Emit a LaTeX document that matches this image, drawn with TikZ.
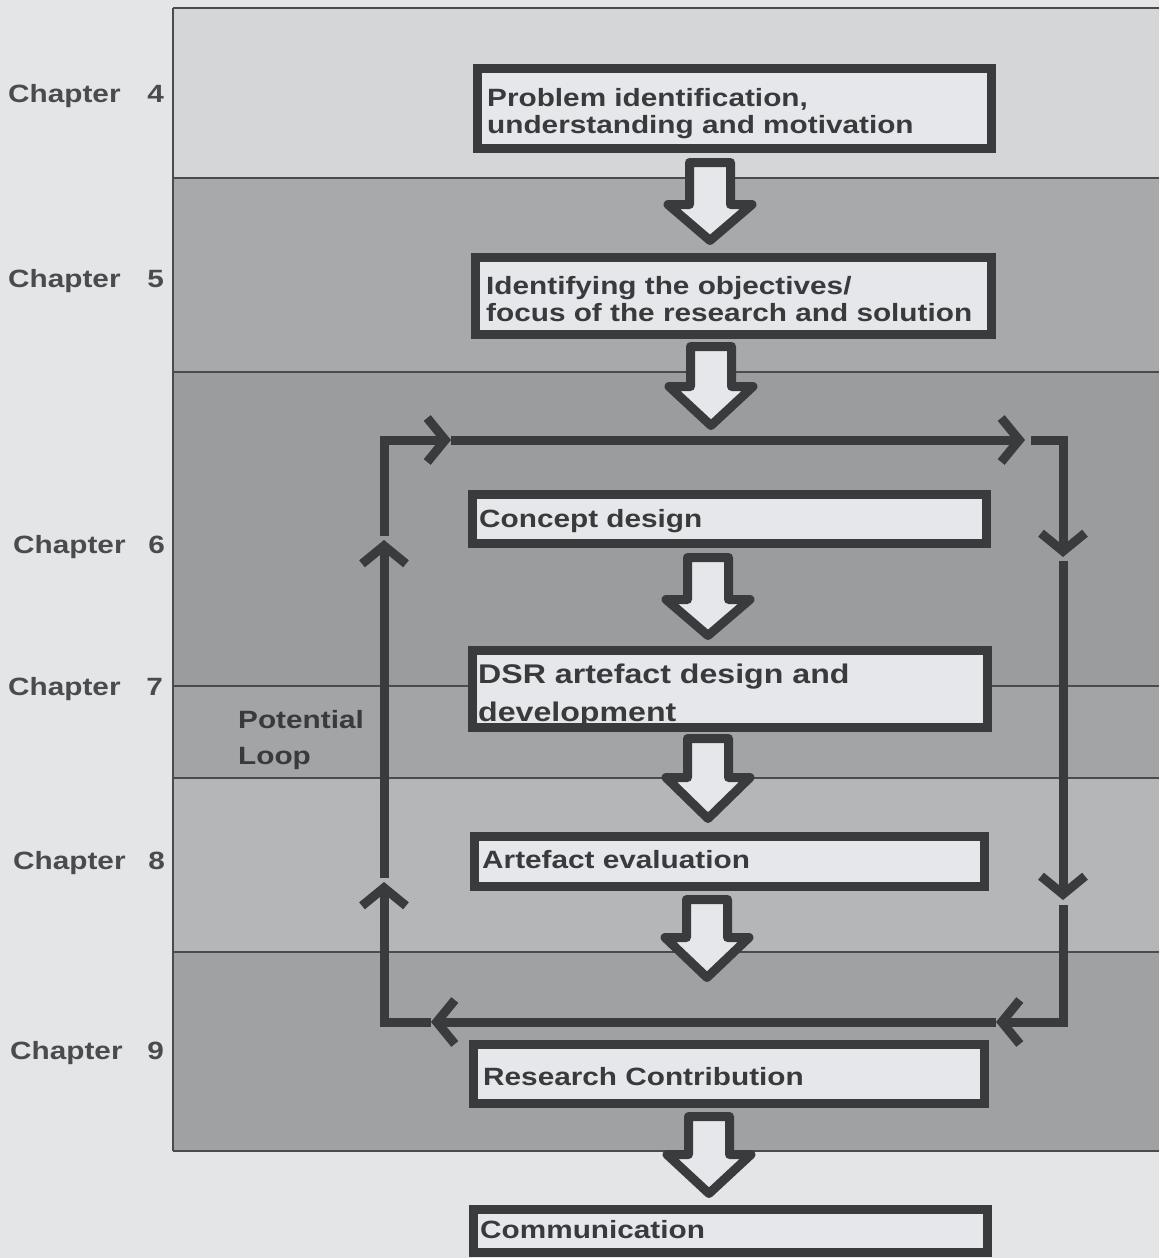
\documentclass[tikz,border=0pt]{standalone}
\usepackage{fontspec}
\setmainfont{Liberation Sans}[FakeStretch=1.19]
\usetikzlibrary{arrows.meta}

\definecolor{pagebg}{HTML}{E4E5E7}
\definecolor{bandA}{HTML}{D5D6D8}
\definecolor{bandB}{HTML}{A8A9AB}
\definecolor{bandC}{HTML}{9B9C9E}
\definecolor{bandD}{HTML}{A3A4A6}
\definecolor{bandE}{HTML}{B5B6B8}
\definecolor{bandF}{HTML}{A0A1A3}
\definecolor{rulecol}{HTML}{4A4B4D}
\definecolor{boxline}{HTML}{3A3B3D}
\definecolor{boxfill}{HTML}{E6E7EA}
\definecolor{txtcol}{HTML}{393A3C}
\definecolor{chapcol}{HTML}{4A4B4D}

% hollow block arrow: centre x, top of shaft, top of head, tip (outer edges)
\newcommand\hollowarrow[4]{%
  \draw[blockarrow]
    ({#1-20.5},{#2+4.5}) -- ({#1+20.5},{#2+4.5}) -- ({#1+20.5},{#3+4.5})
    -- ({#1+42},{#3+4.5}) -- ({#1},{#4-4.5}) -- ({#1-42},{#3+4.5})
    -- ({#1-20.5},{#3+4.5}) -- cycle;}

\begin{document}
\begin{tikzpicture}[x=1pt,y=-1pt,
  stage/.style={draw=boxline, line width=9pt, fill=boxfill, rectangle,
    inner sep=0pt, outer sep=0pt},
  blockarrow/.style={draw=boxline, line width=9pt, fill=boxfill, line join=round},
  loopline/.style={draw=boxline, line width=9pt,
    -{Straight Barb[length=18pt, width=44pt]}},
  rulestyle/.style={draw=rulecol, line width=1.6pt},
  lbl/.style={font=\bfseries\fontsize{25}{28}\selectfont, text=txtcol,
    inner sep=0pt, anchor=base west},
  biglbl/.style={lbl, font=\bfseries\fontsize{27}{31}\selectfont},
  chap/.style={font=\bfseries\fontsize{25}{28}\selectfont, text=chapcol,
    inner sep=0pt, anchor=base west},
  chapnum/.style={chap, anchor=base east}]

% page
\path[use as bounding box, fill=pagebg] (0,0) rectangle (1159,1258);

% chapter bands
\fill[bandA] (173,8)    rectangle (1159,178);
\fill[bandB] (173,178)  rectangle (1159,372);
\fill[bandC] (173,372)  rectangle (1159,686);
\fill[bandD] (173,686)  rectangle (1159,778);
\fill[bandE] (173,778)  rectangle (1159,952);
\fill[bandF] (173,952)  rectangle (1159,1151);
\foreach \yy in {8,178,372,686,778,952,1151}
  \draw[rulestyle] (173,\yy) -- (1159,\yy);
\draw[rulestyle] (173,8) -- (173,1151);

% chapter labels
\node[chap] (c4) at (8,102) {Chapter};   \node[chapnum] (n4) at (164,102) {4};
\node[chap] (c5) at (8,287) {Chapter};   \node[chapnum] (n5) at (164,287) {5};
\node[chap] (c6) at (13,553) {Chapter};  \node[chapnum] (n6) at (165,553) {6};
\node[chap] (c7) at (8,695) {Chapter};   \node[chapnum] (n7) at (163,695) {7};
\node[chap] (c8) at (13,869) {Chapter};  \node[chapnum] (n8) at (165,869) {8};
\node[chap] (c9) at (10,1059) {Chapter}; \node[chapnum] (n9) at (164,1059) {9};

% loop corners
\coordinate (tl) at (384,440);
\coordinate (tr) at (1063,440);
\coordinate (br) at (1063,1022);
\coordinate (bl) at (384,1022);

% feedback loop, drawn as arrowed pieces
\draw[loopline] (384,536) -- (tl) -- (451,440);
\draw[loopline] (451,440) -- (1025,440);
\draw[loopline] (1031,440) -- (tr) -- (1063,557);
\draw[loopline] (1063,561) -- (1063,900);
\draw[loopline] (1063,905) -- (br) -- (996,1022);
\draw[loopline] (996,1022) -- (431,1022);
\draw[loopline] (431,1022) -- (bl) -- (384,882);
\draw[loopline] (384,878) -- (384,540);

\node[lbl] (pl1) at (238,728) {Potential};
\node[lbl] (pl2) at (238,764) {Loop};

% stage boxes
\node[stage, minimum width=514pt, minimum height=80pt] (s1) at (734.5,108.5) {};
\node[stage, minimum width=516pt, minimum height=77pt] (s2) at (733.5,296) {};
\node[stage, minimum width=514pt, minimum height=49pt] (s3) at (729.5,519) {};
\node[stage, minimum width=515pt, minimum height=77pt] (s4) at (730,689) {};
\node[stage, minimum width=510pt, minimum height=50pt] (s5) at (729.5,861.5) {};
\node[stage, minimum width=511pt, minimum height=59pt] (s6) at (729,1074) {};
\node[stage, minimum width=514pt, minimum height=43pt] (s7) at (730.5,1231) {};

% stage texts
\node[lbl] (t1a) at (487,106) {Problem identification,};
\node[lbl] (t1b) at (487,133) {understanding and motivation};
\node[lbl] (t2a) at (486,294) {Identifying the objectives/};
\node[lbl] (t2b) at (486,321) {focus of the research and solution};
\node[lbl] (t3)  at (479,527) {Concept design};
\node[biglbl] (t4a) at (478,683) {DSR artefact design and};
\node[biglbl] (t4b) at (478,721) {development};
\node[lbl] (t5)  at (482,868) {Artefact evaluation};
\node[lbl] (t6)  at (483,1085) {Research Contribution};
\node[lbl] (t7)  at (480,1238) {Communication};

% flow between stages
\hollowarrow{710}{158}{200}{245}
\hollowarrow{711}{342}{382}{430}
\hollowarrow{708}{553}{595}{640}
\hollowarrow{708}{734}{773}{823}
\hollowarrow{707}{895}{933}{982}
\hollowarrow{709}{1112}{1150}{1198}

\end{tikzpicture}
\end{document}
